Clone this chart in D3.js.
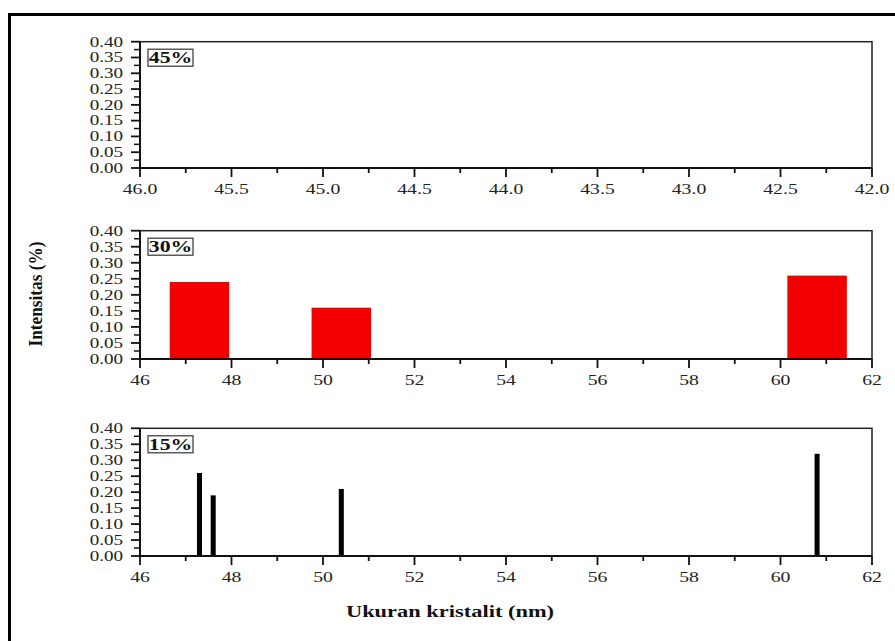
<!DOCTYPE html>
<html>
<head>
<meta charset="utf-8">
<script src="https://cdn.jsdelivr.net/npm/d3@7"></script>
<style>
  html, body { margin: 0; padding: 0; background: #fff; }
  svg { display: block; }
  text { font-family: "Liberation Serif", "Times New Roman", serif; fill: #222; }
</style>
</head>
<body>
<svg id="chart" width="895" height="641"></svg>
<script>
// ---- data ----
const panelLabels = ["45%", "30%", "15%"];
const yTicks = [0.00, 0.05, 0.10, 0.15, 0.20, 0.25, 0.30, 0.35, 0.40];
const xTicks45 = [46.0, 45.5, 45.0, 44.5, 44.0, 43.5, 43.0, 42.5, 42.0];
const xTicksNum = [46, 48, 50, 52, 54, 56, 58, 60, 62];
// 45%: no bars
const size45 = [];
const int45 = [];
// 30%: wide red bars
const size30 = [47.3, 50.4, 60.8];
const int30 = [0.24, 0.16, 0.26];
// 15%: thin black bars
const size15 = [47.3, 47.6, 50.4, 60.8];
const int15 = [0.26, 0.19, 0.21, 0.32];
const xTitle = "Ukuran kristalit (nm)";
const yTitle = "Intensitas (%)";

// ---- layout ----
const svg = d3.select("#chart");
const SX = 1.36; // horizontal stretch of the reference's glyphs
const left = 140, right = 872;

// outer frame (right/bottom lie outside the picture)
svg.append("rect").attr("x", 9.5).attr("y", 14.5).attr("width", 900).attr("height", 700)
  .attr("fill", "none").attr("stroke", "#000").attr("stroke-width", 3);

function stretchedText(g, x, y, str, size, weight, anchor) {
  return g.append("text")
    .attr("transform", `translate(${x},${y}) scale(${SX},1)`)
    .attr("text-anchor", anchor)
    .attr("font-size", size)
    .attr("font-weight", weight)
    .text(str);
}

const panels = [
  { top: 41.7, bottom: 168, domain: [46, 42], ticks: xTicks45, fmt: d3.format(".1f"), minorStep: 0.25,
    label: panelLabels[0], xs: size45, ys: int45, width: 0, color: "#000" },
  { top: 230.7, bottom: 359, domain: [46, 62], ticks: xTicksNum, fmt: d3.format("d"), minorStep: 1,
    label: panelLabels[1], xs: size30, ys: int30, width: 1.3, color: "#f20000" },
  { top: 428.3, bottom: 556, domain: [46, 62], ticks: xTicksNum, fmt: d3.format("d"), minorStep: 1,
    label: panelLabels[2], xs: size15, ys: int15, width: 0.11, color: "#000" }
];

panels.forEach(p => {
  const g = svg.append("g");
  const x = d3.scaleLinear().domain(p.domain).range([left, right]);
  const y = d3.scaleLinear().domain([0, 0.4]).range([p.bottom, p.top]);

  // bars
  p.xs.forEach((cx, i) => {
    const x0 = x(cx - p.width / 2), x1 = x(cx + p.width / 2);
    g.append("rect")
      .attr("x", Math.min(x0, x1)).attr("width", Math.abs(x1 - x0))
      .attr("y", y(p.ys[i])).attr("height", y(0) - y(p.ys[i]))
      .attr("fill", p.color);
  });

  // frame
  g.append("rect").attr("x", left).attr("y", p.top).attr("width", right - left).attr("height", p.bottom - p.top)
    .attr("fill", "none").attr("stroke", "#222").attr("stroke-width", 1.5);
  g.append("line").attr("x1", left - 1).attr("x2", right).attr("y1", p.bottom).attr("y2", p.bottom)
    .attr("stroke", "#111").attr("stroke-width", 2);
  g.append("line").attr("x1", left).attr("x2", left).attr("y1", p.top).attr("y2", p.bottom + 1)
    .attr("stroke", "#111").attr("stroke-width", 2);

  // y ticks
  const yMinor = d3.range(0.025, 0.4, 0.05);
  yMinor.forEach(v => g.append("line").attr("x1", left - 6).attr("x2", left).attr("y1", y(v)).attr("y2", y(v))
    .attr("stroke", "#111").attr("stroke-width", 1.5));
  yTicks.forEach(v => {
    g.append("line").attr("x1", left - 9).attr("x2", left).attr("y1", y(v)).attr("y2", y(v))
      .attr("stroke", "#111").attr("stroke-width", 1.8);
    stretchedText(g, 123, y(v) + 4.8, d3.format(".2f")(v), 14, "normal", "end");
  });

  // x ticks
  const d0 = Math.min(...p.domain), d1 = Math.max(...p.domain);
  const minors = d3.range(d0 + p.minorStep, d1, p.minorStep * 2);
  minors.forEach(v => g.append("line").attr("x1", x(v)).attr("x2", x(v)).attr("y1", p.bottom).attr("y2", p.bottom + 5)
    .attr("stroke", "#111").attr("stroke-width", 1.8));
  p.ticks.forEach(v => {
    g.append("line").attr("x1", x(v)).attr("x2", x(v)).attr("y1", p.bottom).attr("y2", p.bottom + 9)
      .attr("stroke", "#111").attr("stroke-width", 1.8);
    stretchedText(g, x(v), p.bottom + 26, p.fmt(v), 14.5, "normal", "middle");
  });

  // panel label box
  g.append("rect").attr("x", 148).attr("y", p.top + 7.5).attr("width", 45).attr("height", 17)
    .attr("fill", "#fff").attr("stroke", "#333").attr("stroke-width", 1.2);
  stretchedText(g, 170.5, p.top + 21.5, p.label, 16, "bold", "middle").style("fill", "#111");
});

// axis titles
stretchedText(svg, 450, 617, xTitle, 16.5, "bold", "middle").style("fill", "#111");
svg.append("text")
  .attr("transform", `translate(42,294) scale(1.2,1) rotate(-90)`)
  .attr("text-anchor", "middle")
  .attr("font-size", 16)
  .attr("font-weight", "bold")
  .attr("textLength", 105)
  .attr("lengthAdjust", "spacingAndGlyphs")
  .style("fill", "#111")
  .text(yTitle);
</script>
</body>
</html>
